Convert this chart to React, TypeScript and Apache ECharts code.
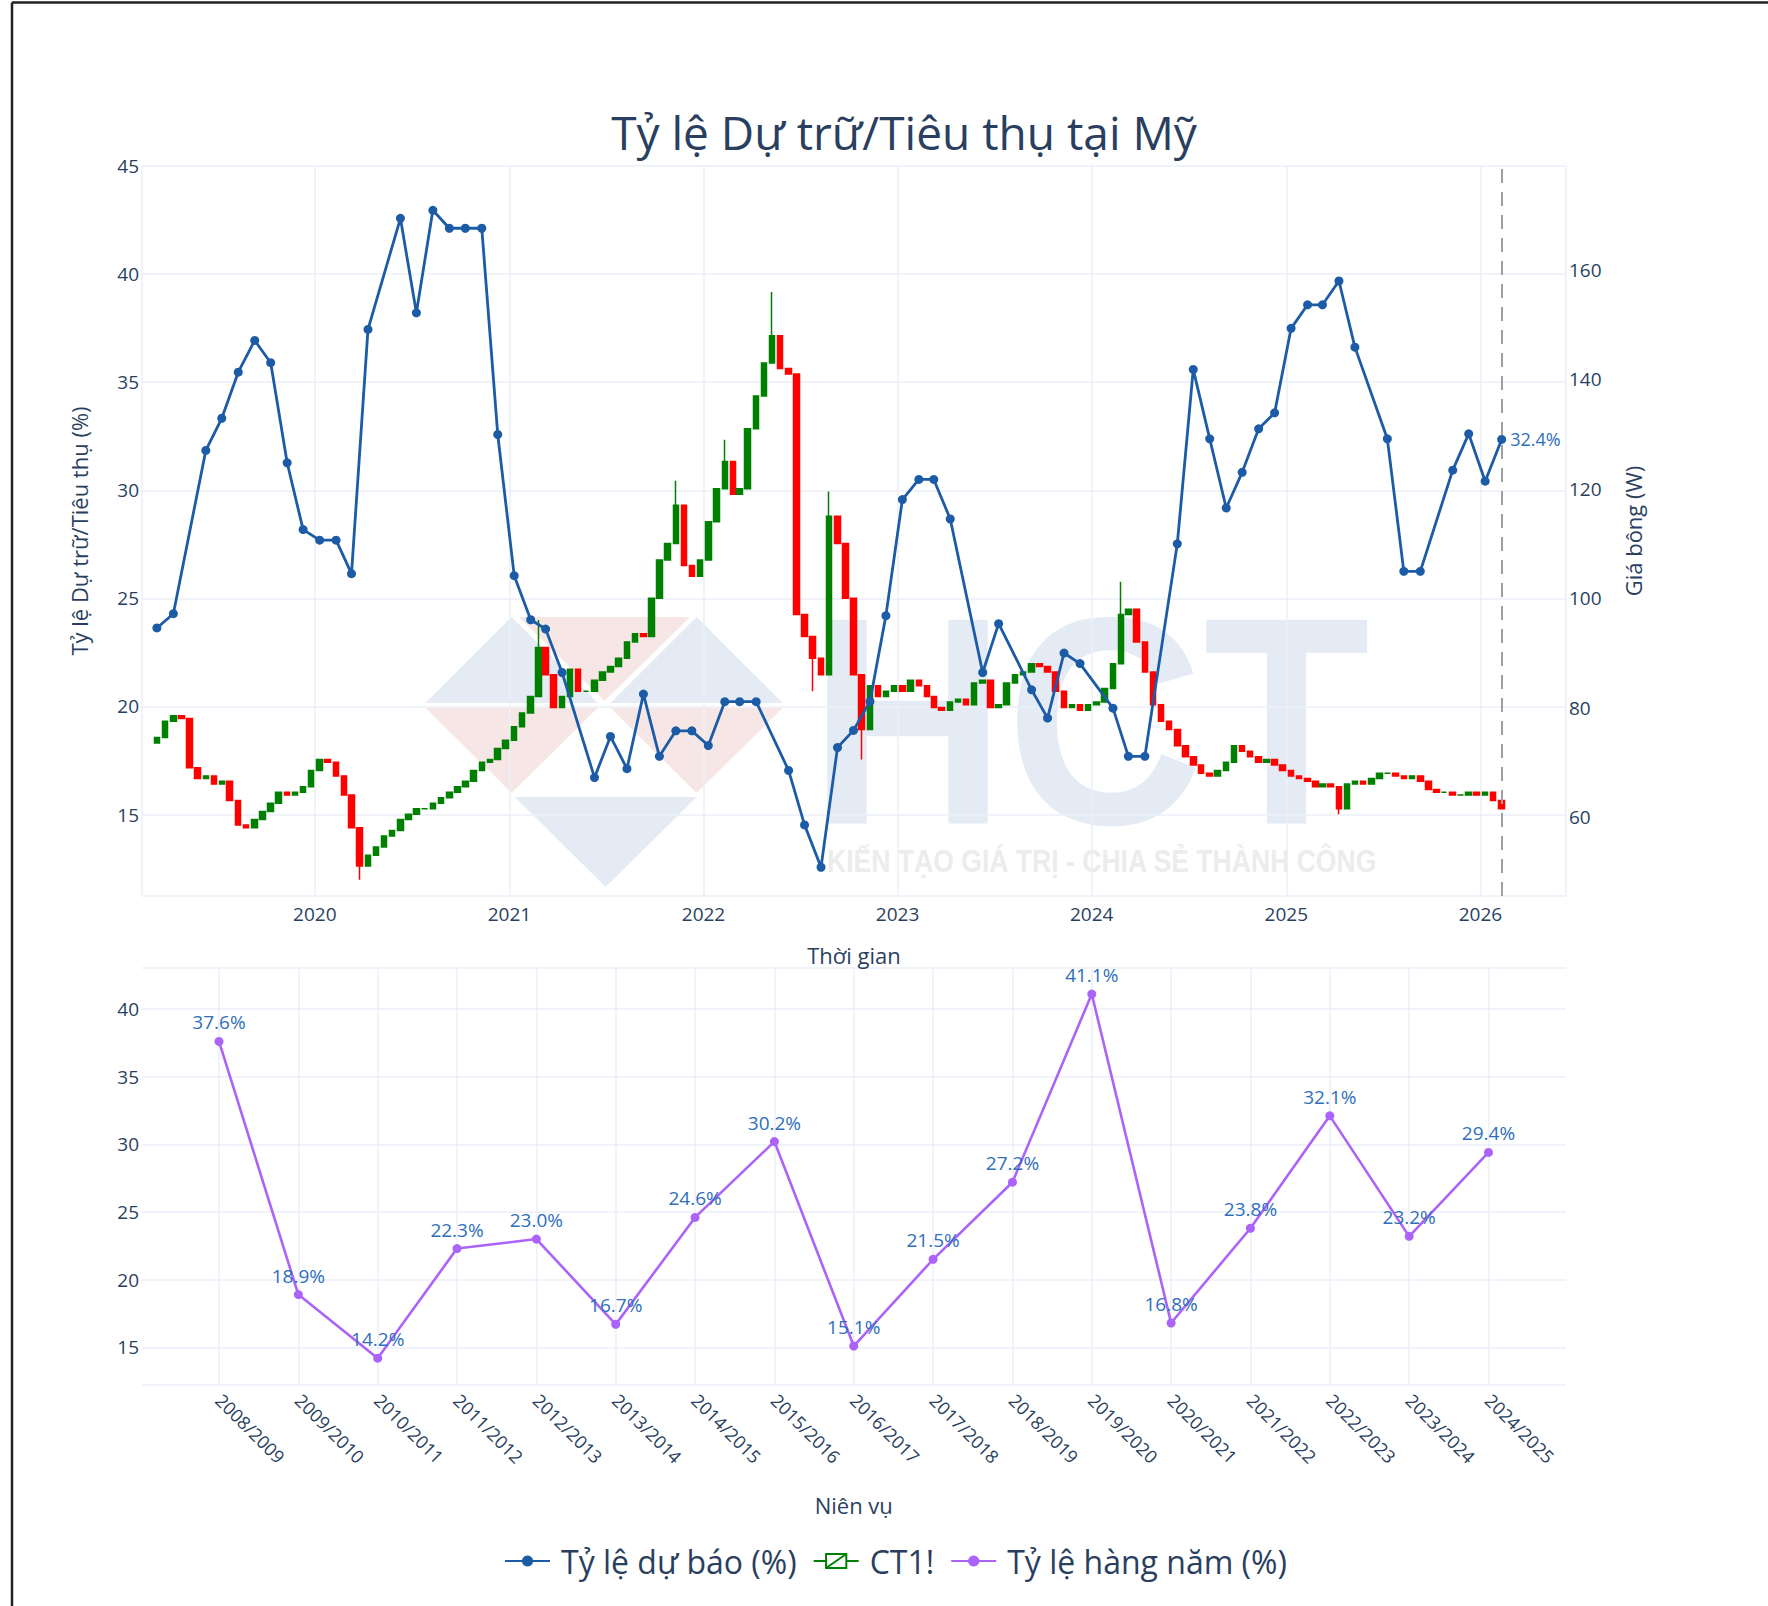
import React, { useEffect, useRef } from "react";
import * as echarts from "echarts";

// ---- Top chart: forecast stocks-to-use ratio (monthly reports) ----
const forecastDates = [
  "2019-03-10", "2019-04-10", "2019-06-10", "2019-07-10", "2019-08-10", "2019-09-10", "2019-10-10", "2019-11-10", "2019-12-10",
  "2020-01-10", "2020-02-10", "2020-03-10", "2020-04-10", "2020-06-10", "2020-07-10", "2020-08-10", "2020-09-10", "2020-10-10", "2020-11-10", "2020-12-10",
  "2021-01-10", "2021-02-10", "2021-03-10", "2021-04-10", "2021-06-10", "2021-07-10", "2021-08-10", "2021-09-10", "2021-10-10", "2021-11-10", "2021-12-10",
  "2022-01-10", "2022-02-10", "2022-03-10", "2022-04-10", "2022-06-10", "2022-07-10", "2022-08-10", "2022-09-10", "2022-10-10", "2022-11-10", "2022-12-10",
  "2023-01-10", "2023-02-10", "2023-03-10", "2023-04-10", "2023-06-10", "2023-07-10", "2023-09-10", "2023-10-10", "2023-11-10", "2023-12-10",
  "2024-02-10", "2024-03-10", "2024-04-10", "2024-06-10", "2024-07-10", "2024-08-10", "2024-09-10", "2024-10-10", "2024-11-10", "2024-12-10",
  "2025-01-10", "2025-02-10", "2025-03-10", "2025-04-10", "2025-05-10", "2025-07-10", "2025-08-10", "2025-09-10", "2025-11-10", "2025-12-10",
  "2026-01-10", "2026-02-10",
];
const forecastValues = [
  23.63, 24.29, 31.84, 33.33, 35.46, 36.93, 35.9, 31.27, 28.18,
  27.69, 27.69, 26.14, 37.44, 42.58, 38.21, 42.95, 42.12, 42.12, 42.12, 32.58,
  26.05, 24.01, 23.58, 21.57, 16.71, 18.61, 17.12, 20.57, 17.69, 18.87, 18.87,
  18.19, 20.22, 20.22, 20.22, 17.04, 14.52, 12.56, 18.1, 18.89, 20.23, 24.2,
  29.57, 30.5, 30.5, 28.67, 21.57, 23.83, 20.77, 19.46, 22.47, 21.98,
  19.92, 17.69, 17.69, 27.52, 35.59, 32.38, 29.18, 30.83, 32.84, 33.58,
  37.49, 38.58, 38.58, 39.68, 36.62, 32.38, 26.25, 26.25, 30.93, 32.61,
  30.42, 32.35,
];
const lastLabel = "32.4%";
const cutoffDate = "2026-02-10";

// ---- CT1! cotton futures, semi-monthly closes (10th and 25th) ----
const candleFirstMonth = [2019, 3];
const candleLastMonth = [2026, 2];
const candleFirstOpen = 73.5;
const candleClose = [
  74.5, 77.5, 78.5, 78, 69, 67, 67.5, 66, 66.5, 63, 58.5, 58, 59.5, 61, 62.5, 64.5, 64, 64.5, 65.5, 68.5,
  70.5, 70, 67.5, 64, 58, 51, 53, 54.5, 56.5, 57.5, 59.5, 60.5, 61.5, 61.5, 62.5, 63.5, 64.5, 65.5, 66.5, 68.5, 70, 70.5, 72.5, 74,
  76.5, 79, 82, 91, 86, 80, 82, 87, 83, 83, 85, 86.5, 87.5, 89, 92, 93.5, 93, 100, 107, 110, 117, 106, 104, 107,
  114, 120, 125, 119, 120, 131, 137, 143, 148, 142, 141, 97, 93, 89, 86, 115, 110, 100, 86, 76, 84, 82, 83, 84,
  83, 85, 84, 82, 80, 79.5, 81, 81.5, 80.5, 84.5, 85, 80, 80.5, 84.5, 86, 86.5, 88, 87.5, 86.5, 83, 80, 80.5, 79.5, 80.5,
  81, 83.5, 88, 97, 98, 92, 86.5, 80.5, 77.5, 76, 73, 71, 69.5, 68, 67.5, 68.5, 70, 73, 72, 71, 70, 70.5, 69.5, 68.5,
  67.5, 67, 66.5, 65.5, 66, 65.5, 61.5, 66, 66.5, 66, 67, 68, 68, 67.5, 67, 67.5, 66.5, 65, 64.5, 64.5, 64, 64, 64.5, 64,
  64.5, 63, 61.5,
];
// [date, low, high] extremes read from the long wicks
const candleWicks: [string, number | null, number | null][] = [
  ["2020-03-25", 48.5, null],
  ["2021-02-25", null, 96],
  ["2021-11-10", null, 121.5],
  ["2022-02-10", null, 129],
  ["2022-05-10", null, 156],
  ["2022-07-25", 83, null],
  ["2022-08-25", null, 119.5],
  ["2022-10-25", 70.5, null],
  ["2024-02-25", null, 103],
  ["2025-04-10", 60.5, null],
];

// ---- Bottom chart: annual ratio by season ----
const seasons = [
  "2008/2009", "2009/2010", "2010/2011", "2011/2012", "2012/2013", "2013/2014", "2014/2015", "2015/2016", "2016/2017",
  "2017/2018", "2018/2019", "2019/2020", "2020/2021", "2021/2022", "2022/2023", "2023/2024", "2024/2025",
];
const annualValues = [37.6, 18.9, 14.2, 22.3, 23.0, 16.7, 24.6, 30.2, 15.1, 21.5, 27.2, 41.1, 16.8, 23.8, 32.1, 23.2, 29.4];

const TITLE = "Tỷ lệ Dự trữ/Tiêu thụ tại Mỹ";
const NAME_FORECAST = "Tỷ lệ dự báo (%)";
const NAME_CANDLE = "CT1!";
const NAME_ANNUAL = "Tỷ lệ hàng năm (%)";

const FONT = "'Open Sans', 'Noto Sans', sans-serif";
const TXT = "#2a3f5f";
const GRID = "#ebf0f8";
const BLUE = "#1c5ba6";
const LABEL_BLUE = "#2f6fba";
const PURPLE = "#ab63fa";
const UP = "#008000";
const DOWN = "#ff0000";

function buildCandleDates(): string[] {
  const out: string[] = [];
  let [y, m] = candleFirstMonth;
  const [ly, lm] = candleLastMonth;
  while (y < ly || (y === ly && m <= lm)) {
    const mm = String(m).padStart(2, "0");
    out.push(`${y}-${mm}-10`);
    if (!(y === ly && m === lm)) out.push(`${y}-${mm}-25`);
    m++;
    if (m > 12) { m = 1; y++; }
  }
  return out;
}

export default function App() {
  const ref = useRef<HTMLDivElement>(null);

  useEffect(() => {
    if (!ref.current) return;
    const chart = echarts.init(ref.current, null, { renderer: "svg" });

    const candleDates = buildCandleDates();
    const wickMap: Record<string, [number | null, number | null]> = {};
    candleWicks.forEach(([d, lo, hi]) => { wickMap[d] = [lo, hi]; });
    const candleData = candleClose.map((c, i) => {
      const o = i === 0 ? candleFirstOpen : candleClose[i - 1];
      const d = candleDates[i];
      const w = wickMap[d];
      const low = Math.min(o, c, w && w[0] != null ? w[0] : Infinity);
      const high = Math.max(o, c, w && w[1] != null ? w[1] : -Infinity);
      return [d, o, c, low, high];
    });

    const forecastData: any[] = forecastDates.map((d, i) => [d, forecastValues[i]]);
    const lastIdx = forecastData.length - 1;
    forecastData[lastIdx] = {
      value: forecastData[lastIdx],
      label: { show: true, position: "right", distance: 4, formatter: lastLabel, color: LABEL_BLUE, fontSize: 18, fontFamily: FONT },
    };

    const fmt = (step: number) => (v: number) => (Math.abs(v / step - Math.round(v / step)) < 1e-6 ? String(Math.round(v)) : "");

    const option: any = {
      animation: false,
      backgroundColor: "#ffffff",
      textStyle: { fontFamily: FONT },
      title: {
        text: TITLE,
        left: 899,
        top: 104,
        textAlign: "center",
        textStyle: { fontFamily: FONT, fontSize: 46, fontWeight: "normal", color: TXT },
      },
      legend: {
        left: 499,
        top: 1540,
        itemWidth: 45,
        itemHeight: 14,
        itemGap: 16,
        symbolKeepAspect: false,
        textStyle: { fontFamily: FONT, fontSize: 32, color: TXT, padding: [0, 0, 0, 6] },
        data: [
          { name: NAME_FORECAST },
          {
            name: NAME_CANDLE,
            icon: "path://M0 10H11M11 1H29V19H11ZM29 10H40M11 19L29 1",
            itemStyle: { color: "rgba(0,0,0,0)", borderColor: UP, borderWidth: 2 },
          },
          { name: NAME_ANNUAL },
        ],
      },
      graphic: [
        // watermark logo
        { type: "polygon", z: -5, silent: true, shape: { points: [[425.5, 703], [511.6, 617], [597.7, 703]] }, style: { fill: "#e4ebf4" } },
        { type: "polygon", z: -5, silent: true, shape: { points: [[610.5, 703], [696.6, 617], [782.7, 703]] }, style: { fill: "#e4ebf4" } },
        { type: "polygon", z: -5, silent: true, shape: { points: [[519, 617], [690, 617], [604.5, 701]] }, style: { fill: "#f6e7e6" } },
        { type: "polygon", z: -5, silent: true, shape: { points: [[425.5, 708], [597.7, 708], [511.6, 793]] }, style: { fill: "#f6e7e6" } },
        { type: "polygon", z: -5, silent: true, shape: { points: [[610.5, 708], [782.7, 708], [696.6, 793]] }, style: { fill: "#f6e7e6" } },
        { type: "polygon", z: -5, silent: true, shape: { points: [[514.8, 797], [696.6, 797], [605.7, 887]] }, style: { fill: "#e4ebf4" } },
        {
          type: "text", z: -5, silent: true, x: 809, y: 720.5, scaleX: 0.922,
          style: { text: "HCT", font: "bold 296px 'Liberation Sans', sans-serif", fill: "#e4ebf4", verticalAlign: "middle" },
        },
        {
          type: "text", z: -5, silent: true, x: 827, y: 877, scaleX: 0.857,
          style: { text: "KIẾN TẠO GIÁ TRỊ - CHIA SẺ THÀNH CÔNG", font: "bold 31px 'Liberation Sans', sans-serif", fill: "#ececec", verticalAlign: "bottom" },
        },
        // screenshot frame
        { type: "line", z: 50, silent: true, shape: { x1: 12, y1: 2.5, x2: 1768, y2: 2.5 }, style: { stroke: "#222", lineWidth: 2.5 } },
        { type: "line", z: 50, silent: true, shape: { x1: 12, y1: 2.5, x2: 12, y2: 1606 }, style: { stroke: "#222", lineWidth: 2.5 } },
      ],
      grid: [
        { left: 142, top: 166, width: 1424, height: 730 },
        { left: 142, top: 967.5, width: 1424, height: 417.5 },
        { left: 219, top: 967.5, width: 1269.5, height: 417.5 },
      ],
      xAxis: [
        {
          type: "time",
          gridIndex: 0,
          min: "2019-02-10",
          max: "2026-06-11",
          splitNumber: 7,
          axisLine: { show: false },
          axisTick: { show: false },
          splitLine: { show: true, lineStyle: { color: GRID, width: 1.5 } },
          axisLabel: {
            color: TXT, fontSize: 19, fontFamily: FONT, margin: 8,
            formatter: (v: number) => String(new Date(v).getFullYear()),
          },
          name: "Thời gian",
          nameLocation: "middle",
          nameGap: 48,
          nameTextStyle: { color: TXT, fontSize: 22, fontFamily: FONT },
        },
        { type: "value", gridIndex: 1, show: false, min: 0, max: 1 },
        {
          type: "category",
          gridIndex: 2,
          data: seasons,
          boundaryGap: false,
          axisLine: { show: false },
          axisTick: { show: false },
          splitLine: { show: true, lineStyle: { color: GRID, width: 1.5 } },
          axisLabel: { color: TXT, fontSize: 18, fontFamily: FONT, rotate: -45, margin: 12, interval: 0 },
          name: "Niên vụ",
          nameLocation: "middle",
          nameGap: 109,
          nameTextStyle: { color: TXT, fontSize: 22, fontFamily: FONT },
        },
      ],
      yAxis: [
        {
          type: "value",
          gridIndex: 0,
          min: 11.23,
          max: 45,
          splitNumber: 7,
          axisLine: { show: false },
          axisTick: { show: false },
          splitLine: { show: true, lineStyle: { color: GRID, width: 1.5 } },
          axisLabel: { color: TXT, fontSize: 19, fontFamily: FONT, margin: 3, formatter: fmt(5) },
          name: "Tỷ lệ Dự trữ/Tiêu thụ (%)",
          nameLocation: "middle",
          nameRotate: 90,
          nameGap: 52,
          nameTextStyle: { color: TXT, fontSize: 22, fontFamily: FONT },
        },
        {
          type: "value",
          gridIndex: 0,
          position: "right",
          min: 45.53,
          max: 179.05,
          splitNumber: 7,
          axisLine: { show: false },
          axisTick: { show: false },
          splitLine: { show: false },
          axisLabel: { color: TXT, fontSize: 19, fontFamily: FONT, margin: 3, formatter: fmt(20) },
          name: "Giá bông (W)",
          nameLocation: "middle",
          nameRotate: 90,
          nameGap: 56,
          nameTextStyle: { color: TXT, fontSize: 22, fontFamily: FONT },
        },
        {
          type: "value",
          gridIndex: 1,
          min: 12.22,
          max: 43.06,
          splitNumber: 6,
          axisLine: { show: false },
          axisTick: { show: false },
          splitLine: { show: true, lineStyle: { color: GRID, width: 1.5 } },
          axisLabel: { color: TXT, fontSize: 19, fontFamily: FONT, margin: 3, formatter: fmt(5) },
        },
        { type: "value", gridIndex: 2, min: 12.22, max: 43.06, show: false, splitLine: { show: false } },
      ],
      series: [
        {
          name: NAME_FORECAST,
          type: "line",
          xAxisIndex: 0,
          yAxisIndex: 0,
          data: forecastData,
          z: 5,
          symbol: "circle",
          symbolSize: 9,
          color: BLUE,
          itemStyle: { color: BLUE },
          lineStyle: { color: BLUE, width: 2.8 },
          markLine: {
            silent: true,
            symbol: "none",
            label: { show: false },
            lineStyle: { type: [14, 9], color: "#a0a0a0", width: 2 },
            data: [{ xAxis: cutoffDate }],
          },
        },
        {
          name: NAME_CANDLE,
          type: "candlestick",
          xAxisIndex: 0,
          yAxisIndex: 1,
          data: candleData,
          z: 3,
          barWidth: 6,
          itemStyle: { color: UP, color0: DOWN, borderColor: UP, borderColor0: DOWN, borderWidth: 1.5 },
        },
        {
          name: NAME_ANNUAL,
          type: "line",
          xAxisIndex: 2,
          yAxisIndex: 3,
          data: annualValues,
          symbol: "circle",
          symbolSize: 9,
          color: PURPLE,
          itemStyle: { color: PURPLE },
          lineStyle: { color: PURPLE, width: 2.6 },
          label: {
            show: true,
            position: "top",
            distance: 5,
            color: LABEL_BLUE,
            fontSize: 19,
            fontFamily: FONT,
            formatter: (p: any) => `${Number(p.value).toFixed(1)}%`,
          },
        },
      ],
    };

    chart.setOption(option);
    return () => chart.dispose();
  }, []);

  return (
    <div
      ref={ref}
      style={{ position: "absolute", left: 0, top: 0, width: 1768, height: 1606, background: "#fff" }}
    />
  );
}
